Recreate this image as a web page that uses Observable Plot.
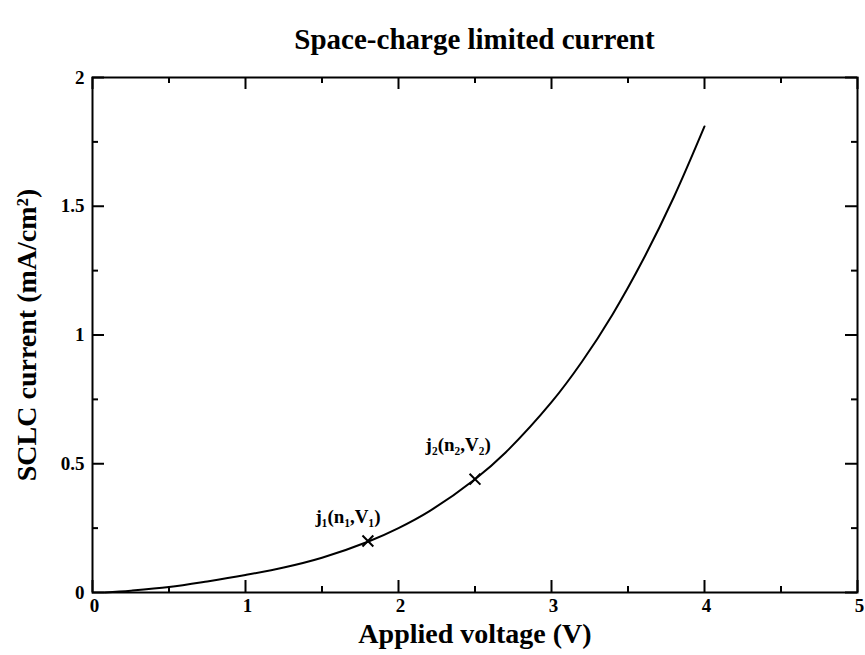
<!DOCTYPE html>
<html>
<head>
<meta charset="utf-8">
<script src="https://cdn.jsdelivr.net/npm/d3@7"></script>
<script src="https://cdn.jsdelivr.net/npm/@observablehq/plot@0.6"></script>
<style>
  body { margin: 0; background: #fff; }
  #title { height: 60px; width: 865px; box-sizing: border-box; padding-left: 92px; padding-right: 8px;
           padding-top: 25px; text-align: center; font: bold 29px "Liberation Serif", serif; line-height: 29px; }
</style>
</head>
<body>
<div id="title">Space-charge limited current</div>
<div id="chart"></div>
<script>
// Curve
const voltage = [0.08, 0.25, 0.5, 0.75, 1.0, 1.25, 1.5, 1.8, 2.0, 2.2, 2.5, 2.7, 3.0, 3.2, 3.4, 3.6, 3.8, 4.0];
const current = [0.0, 0.007, 0.021, 0.043, 0.068, 0.097, 0.135, 0.197, 0.25, 0.315, 0.44, 0.544, 0.739, 0.897, 1.081, 1.294, 1.536, 1.81];
// Marked points
const markV = [1.8, 2.5];
const markJ = [0.2, 0.44];
const markLabels = ["j₁(n₁,V₁)", "j₂(n₂,V₂)"];
const labelV = [1.67, 2.39];
const labelJ = [0.295, 0.575];
// Ticks
const xMajor = [0, 1, 2, 3, 4, 5];
const xMinor = [0.5, 1.5, 2.5, 3.5, 4.5];
const yMajor = [0, 0.5, 1, 1.5, 2];
const yMinor = [0.25, 0.75, 1.25, 1.75];
const yTickLabels = ["0", "0.5", "1", "1.5", "2"];

const curve = voltage.map((v, i) => ({v, j: current[i]}));
const marks = markV.map((v, i) => ({v, j: markJ[i]}));
const labels = labelV.map((v, i) => ({v, j: labelJ[i], t: markLabels[i]}));

const font = '"Liberation Serif", "Times New Roman", serif';
const W = 865, H = 595, mT = 17, mL = 92, mR = 8, mB = 63;
const innerH = H - mT - mB, innerW = W - mL - mR;
const majorLen = 12, minorLen = 6;
const tk = {stroke: "#000", strokeWidth: 2};

const chart = Plot.plot({
  width: W,
  height: H,
  marginTop: mT,
  marginLeft: mL,
  marginRight: mR,
  marginBottom: mB,
  style: {fontFamily: font, background: "#fff", color: "#000"},
  x: {domain: [0, 5], label: null},
  y: {domain: [0, 2], label: null},
  marks: [
    // inward ticks on all four sides
    Plot.ruleX(xMajor, {x: d => d, insetTop: innerH - majorLen, ...tk}),
    Plot.ruleX(xMinor, {x: d => d, insetTop: innerH - minorLen, ...tk}),
    Plot.ruleX(xMajor, {x: d => d, insetBottom: innerH - majorLen, ...tk}),
    Plot.ruleX(xMinor, {x: d => d, insetBottom: innerH - minorLen, ...tk}),
    Plot.ruleY(yMajor, {y: d => d, insetRight: innerW - majorLen, ...tk}),
    Plot.ruleY(yMinor, {y: d => d, insetRight: innerW - minorLen, ...tk}),
    Plot.ruleY(yMajor, {y: d => d, insetLeft: innerW - majorLen, ...tk}),
    Plot.ruleY(yMinor, {y: d => d, insetLeft: innerW - minorLen, ...tk}),
    Plot.frame({stroke: "#000", strokeWidth: 2}),
    // tick labels and axis titles
    Plot.axisX(xMajor, {anchor: "bottom", tickSize: 0, tickPadding: 6, fontSize: 19, fontWeight: "bold", dx: 2,
      tickFormat: d3.format("d"),
      label: "Applied voltage (V)", labelAnchor: "center", labelArrow: "none", labelOffset: 50}),
    Plot.axisY(yMajor, {anchor: "left", tickSize: 0, tickPadding: 8, fontSize: 19, fontWeight: "bold",
      tickFormat: (d, i) => yTickLabels[i],
      label: "SCLC current (mA/cm²)", labelAnchor: "center", labelArrow: "none", labelOffset: 76}),
    Plot.line(curve, {x: "v", y: "j", stroke: "#000", strokeWidth: 2, curve: "catmull-rom"}),
    Plot.dot(marks, {x: "v", y: "j", symbol: "times", r: 5, stroke: "#000", strokeWidth: 2}),
    Plot.text(labels, {x: "v", y: "j", text: "t", fontSize: 19, fontWeight: "bold", fill: "#000"})
  ]
});
document.getElementById("chart").appendChild(chart);
// enlarge axis titles
chart.querySelectorAll("g[aria-label='x-axis label'] text, g[aria-label='y-axis label'] text").forEach(t => {
  t.setAttribute("font-size", "28");
  t.setAttribute("font-weight", "bold");
});
</script>
</body>
</html>
